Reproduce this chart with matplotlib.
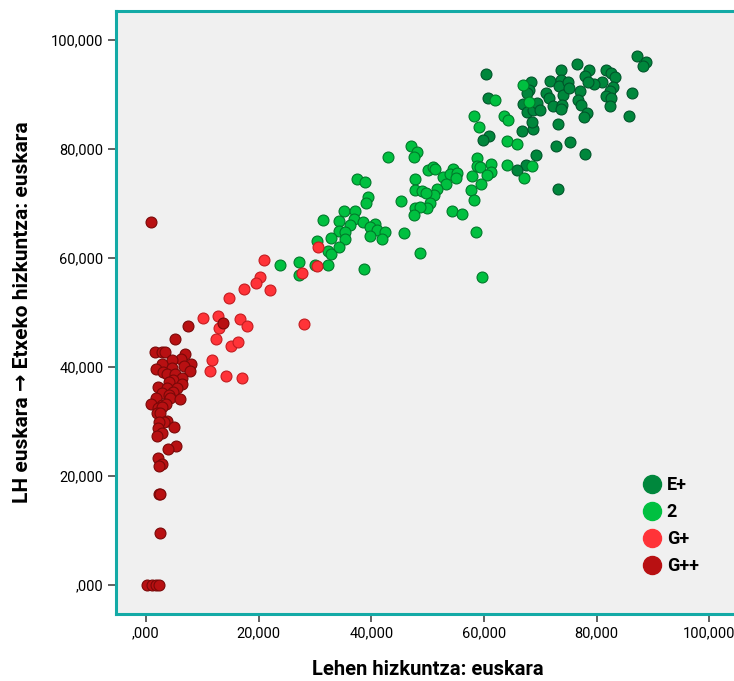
import matplotlib
matplotlib.use('Agg')
import matplotlib.pyplot as plt
from matplotlib.lines import Line2D
from matplotlib.ticker import FuncFormatter

plt.rcParams['font.family'] = ['Roboto', 'DejaVu Sans']

# E+ (berde iluna)
eplus_x = [60.3, 60.8, 60.9, 59.9, 66.8, 68.7, 68.6, 68.4, 68.0, 67.6, 67.0, 67.6, 68.7, 69.4, 69.9,
           71.1, 71.5, 71.8, 73.6, 73.6, 73.4, 74.9, 74.1, 72.3, 73.9, 73.7, 73.2, 72.8, 75.3, 69.3,
           67.4, 65.8, 73.2, 87.2, 88.7, 88.3, 76.5, 78.7, 77.9, 81.6, 82.6, 83.2, 81.0, 79.6, 78.5,
           75.1, 77.0, 82.9, 82.3, 81.7, 82.5, 82.4, 86.3, 76.7, 77.3, 78.3, 77.7, 85.7, 77.9]
eplus_y = [93.8, 89.4, 82.3, 81.6, 83.3, 83.7, 85.0, 92.2, 90.8, 90.2, 88.3, 86.8, 87.2, 88.5, 87.2,
           90.2, 89.4, 92.4, 94.4, 92.7, 91.6, 92.2, 89.9, 87.8, 88.1, 87.3, 84.5, 80.6, 81.2, 78.9,
           77.1, 76.1, 72.7, 97.1, 95.9, 95.2, 95.5, 94.4, 93.4, 94.4, 93.9, 93.2, 92.3, 91.9, 92.2,
           91.1, 90.6, 91.3, 90.6, 89.8, 89.3, 87.8, 90.3, 88.9, 88.1, 86.6, 85.8, 86.0, 79.1]

# 2 (berde argia)
two_x = [62.0, 58.3, 59.1, 63.5, 64.3, 64.1, 65.9, 67.0, 68.0, 68.6, 67.2, 64.1, 58.7, 61.3, 58.8,
         59.3, 61.2, 60.6, 57.9, 59.4, 57.7, 58.3, 58.6, 54.3, 56.1, 47.0, 48.1, 47.6, 50.0, 51.0,
         51.4, 47.8, 52.8, 54.5, 54.0, 55.3, 55.0, 53.3, 51.7, 51.2, 47.7, 49.0, 49.7, 50.5, 49.9,
         47.8, 48.7, 47.6, 45.2, 45.8, 48.7, 59.6, 43.0, 37.4, 38.9, 39.5, 39.1, 35.2, 37.2, 31.5,
         34.3, 36.9, 36.2, 38.6, 40.6, 39.7, 41.0, 42.5, 34.2, 35.4, 32.9, 35.3, 39.7, 42.0, 30.3,
         32.4, 32.8, 34.2, 27.2, 23.8, 30.0, 32.3, 27.2, 38.8]
two_y = [88.9, 86.1, 84.0, 86.1, 85.3, 81.5, 81.0, 91.7, 88.6, 76.9, 74.7, 77.0, 78.4, 77.2, 76.8,
         76.6, 75.8, 75.2, 75.0, 73.5, 72.4, 70.6, 64.8, 68.6, 68.1, 80.6, 79.4, 78.5, 76.1, 76.6,
         76.3, 74.5, 74.8, 76.4, 75.4, 75.5, 74.6, 73.5, 72.6, 71.6, 72.4, 72.2, 72.0, 70.0, 69.2,
         69.2, 69.4, 67.8, 70.5, 64.5, 61.0, 56.6, 78.6, 74.4, 73.9, 71.1, 70.0, 68.6, 68.6, 67.0,
         66.8, 67.2, 66.1, 66.6, 66.2, 65.7, 65.1, 64.7, 65.0, 64.7, 63.7, 63.4, 64.0, 63.4, 63.2,
         61.3, 60.7, 62.1, 59.3, 58.7, 58.8, 58.8, 56.9, 58.0]

# G+ (gorria)
gplus_x = [20.9, 30.5, 30.4, 27.7, 20.2, 19.5, 22.0, 17.5, 14.7, 10.1, 12.8, 12.9, 16.7, 18.0,
           28.0, 12.4, 15.1, 16.3, 11.7, 11.4, 14.2, 17.0]
gplus_y = [59.6, 62.1, 58.5, 57.2, 56.5, 55.5, 54.2, 54.3, 52.6, 49.0, 49.4, 47.1, 48.8, 47.6,
           47.9, 45.1, 43.9, 44.5, 41.3, 39.3, 38.4, 38.0]

# G++ (gorri iluna)
gpp_x = [0.9, 7.4, 13.7, 5.1, 1.6, 2.8, 3.4, 7.0, 6.2, 4.6, 8.0, 2.9, 6.7, 4.7, 1.8, 7.9, 3.1,
         3.7, 5.1, 6.5, 4.8, 4.1, 6.5, 2.2, 3.7, 5.6, 4.8, 2.8, 4.1, 1.8, 4.3, 6.0, 1.0, 2.8, 3.5,
         2.1, 2.9, 2.0, 2.6, 3.7, 3.2, 2.3, 5.0, 2.1, 2.8, 1.9, 5.3, 4.0, 2.2, 2.8, 2.3, 2.3, 2.6,
         2.5, 0.2, 1.1, 1.8, 2.3]
gpp_y = [66.6, 47.6, 48.1, 45.1, 42.8, 42.8, 42.8, 42.3, 41.5, 41.2, 40.6, 40.6, 40.1, 39.9,
         39.6, 39.3, 39.0, 38.8, 38.8, 37.9, 37.6, 37.2, 36.9, 36.3, 36.1, 36.1, 35.5, 35.2, 34.9,
         34.4, 34.3, 34.1, 33.3, 33.0, 33.2, 32.5, 32.7, 31.5, 31.5, 30.1, 29.9, 29.9, 29.0, 28.8,
         27.9, 27.3, 25.5, 25.0, 23.3, 22.2, 21.8, 16.7, 16.7, 9.5, 0.0, 0.0, 0.0, 0.0]

labels = ['E+', '2', 'G+', 'G++']
colors = ['#00873c', '#00c040', '#ff3338', '#b81012']
edges = ['#00552a', '#007a2a', '#c41c20', '#7a0808']
ticks = [0, 20, 40, 60, 80, 100]

fig = plt.figure(figsize=(7.34, 6.81), dpi=100)
ax = fig.add_axes([0.158, 0.0984, 0.849, 0.8854])
ax.set_facecolor('#f0f0f0')

series = [(eplus_x, eplus_y), (two_x, two_y), (gplus_x, gplus_y), (gpp_x, gpp_y)]
for (xs, ys), c, e in zip(series, colors, edges):
    ax.scatter(xs, ys, s=62, c=c, edgecolors=e, linewidths=0.8, zorder=3)

ax.set_xlim(-5.3, 105.3)
ax.set_ylim(-5.3, 105.3)
ax.set_xticks(ticks)
ax.set_yticks(ticks)
fmt = FuncFormatter(lambda v, p: ',000' if v == 0 else f'{int(v)},000')
ax.xaxis.set_major_formatter(fmt)
ax.yaxis.set_major_formatter(fmt)
ax.tick_params(direction='out', length=6, width=1.3, color='#555555', labelsize=10.5, pad=3)

for s in ax.spines.values():
    s.set_color('#13aaa6')
    s.set_linewidth(2.2)

ax.set_xlabel('Lehen hizkuntza: euskara', fontsize=14.5, fontweight='bold', labelpad=14)
ax.set_ylabel('LH euskara → Etxeko hizkuntza: euskara', fontsize=15, fontweight='bold',
              labelpad=14)

handles = [Line2D([], [], marker='o', linestyle='', markersize=13, markerfacecolor=c,
                  markeredgecolor=c) for c in colors]
ax.legend(handles, labels, loc='center left', bbox_to_anchor=(0.817, 0.146), frameon=False,
          prop={'weight': 'bold', 'size': 13}, handletextpad=0.2, labelspacing=0.5,
          handlelength=1.2)

fig.savefig('out.png', dpi=100)
